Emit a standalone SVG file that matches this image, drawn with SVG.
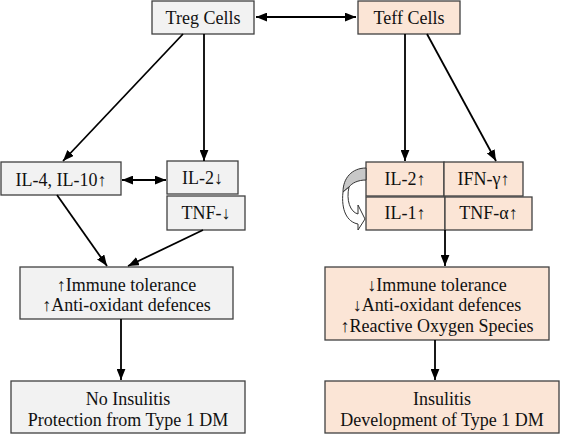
<svg xmlns="http://www.w3.org/2000/svg" width="562" height="434" viewBox="0 0 562 434">
<style>
.g{fill:#f2f2f2;stroke:#404040;stroke-width:1.3}
.p{fill:#fbe5d6;stroke:#404040;stroke-width:1.3}
text{font-size:18px;fill:#111;text-anchor:middle}
.c line{stroke:#000;stroke-width:1.8}
</style>
<defs>
<marker id="ah" viewBox="0 0 10 8" refX="10" refY="4" markerWidth="11" markerHeight="9" markerUnits="userSpaceOnUse" orient="auto-start-reverse">
<path d="M0,0 L10,4 L0,8 Z" fill="#000"/>
</marker>
</defs>
<rect width="562" height="434" fill="#fff"/>
<g font-family="Liberation Serif, Times New Roman, serif">
<g id="treg"><rect class="g" x="152" y="1" width="102" height="33"/><text x="203" y="24">Treg Cells</text></g>
<g id="teff"><rect class="p" x="358" y="1" width="102" height="33"/><text x="409" y="24">Teff Cells</text></g>
<g id="il4"><rect class="g" x="1" y="162" width="120" height="33"/><text x="61" y="186">IL-4, IL-10↑</text></g>
<g id="il2down"><rect class="g" x="167" y="161" width="71" height="33"/><text x="202.5" y="184">IL-2↓</text></g>
<g id="tnfdown"><rect class="g" x="167" y="196" width="78" height="34"/><text x="206" y="219">TNF-↓</text></g>
<g id="immuneUp"><rect class="g" x="20" y="267" width="213" height="52"/><text x="126.5" y="291">↑Immune tolerance</text><text x="126.5" y="311">↑Anti-oxidant defences</text></g>
<g id="noInsulitis"><rect class="g" x="11" y="381" width="234" height="52"/><text x="128" y="405">No Insulitis</text><text x="128" y="426">Protection from Type 1 DM</text></g>
<g id="il2up"><rect class="p" x="366" y="162" width="78" height="34"/><text x="405" y="185">IL-2↑</text></g>
<g id="ifn"><rect class="p" x="444" y="162" width="79" height="34"/><text x="483.5" y="185">IFN-γ↑</text></g>
<g id="il1"><rect class="p" x="366" y="197" width="79" height="33"/><text x="405" y="219">IL-1↑</text></g>
<g id="tnfa"><rect class="p" x="445" y="197" width="87" height="33"/><text x="488.5" y="219">TNF-α↑</text></g>
<g id="immuneDown"><rect class="p" x="325" y="267" width="224" height="73"/><text x="437" y="291">↓Immune tolerance</text><text x="437" y="311">↓Anti-oxidant defences</text><text x="437" y="332">↑Reactive Oxygen Species</text></g>
<g id="insulitis"><rect class="p" x="325" y="381" width="234" height="52"/><text x="442" y="405">Insulitis</text><text x="442" y="426">Development of Type 1 DM</text></g>
</g>
<g id="curvedArrow" stroke="#333" stroke-width="1">
<path d="M366,168 C352,168 343,178 343,192 L349,187 C352,183 358,180 366,180 Z" fill="#c8c8c8"/>
<path d="M349,187 C346,200 350,212 358,214 L358,205 L365,219 L358,230 L358,224 C347,222 341,210 343,192 Z" fill="#fff"/>
</g>
<g class="c" id="connectors">
<line x1="256" y1="17" x2="356" y2="17" marker-start="url(#ah)" marker-end="url(#ah)"/>
<line x1="183" y1="34" x2="63" y2="161" marker-end="url(#ah)"/>
<line x1="204" y1="34" x2="204" y2="161" marker-end="url(#ah)"/>
<line x1="122" y1="180" x2="166" y2="180" marker-start="url(#ah)" marker-end="url(#ah)"/>
<line x1="57" y1="195" x2="107" y2="266" marker-end="url(#ah)"/>
<line x1="203" y1="230" x2="128" y2="266" marker-end="url(#ah)"/>
<line x1="121" y1="319" x2="121" y2="380" marker-end="url(#ah)"/>
<line x1="405" y1="34" x2="405" y2="161" marker-end="url(#ah)"/>
<line x1="427" y1="34" x2="496" y2="161" marker-end="url(#ah)"/>
<line x1="445" y1="230" x2="445" y2="266" marker-end="url(#ah)"/>
<line x1="435" y1="340" x2="435" y2="380" marker-end="url(#ah)"/>
</g>
</svg>
